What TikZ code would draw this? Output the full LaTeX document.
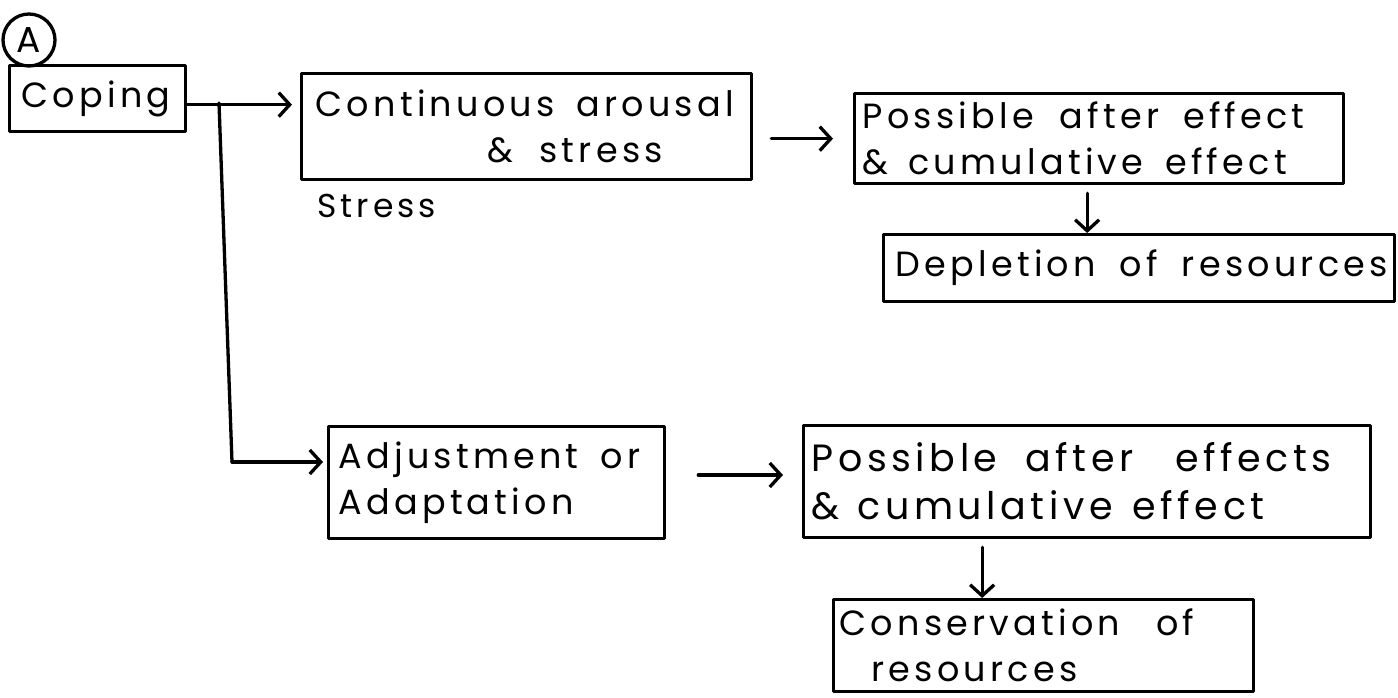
\documentclass[tikz,border=0pt]{standalone}
\usepackage{fontspec}
\newfontfamily\hand{Poppins}[LetterSpace=12]
\usetikzlibrary{arrows.meta}
% explicit word gap of a given width
\newcommand\wgap[1]{\hspace*{#1pt}}

\tikzset{
  ink/.style={line width=3.3pt, line cap=round, line join=round},
  box/.style={draw, ink, anchor=north west, align=left, inner xsep=#1, inner ysep=0pt,
    font=\hand\fontsize{35}{46}\selectfont},
  box/.default=10pt,
  flow/.style={ink, -{Straight Barb[length=11pt,width=24pt,line width=3.3pt]}},
}

\begin{document}
\begin{tikzpicture}[x=1pt,y=-1pt]
  \useasboundingbox[fill=white] (0,0) rectangle (1398,698);

  % label and root box
  \node[draw, ink, circle, minimum size=52pt, inner sep=0pt,
        font=\hand\fontsize{36}{36}\selectfont] (a) at (29,40) {A};
  \node[box=12pt, text width=152pt, minimum width=176pt, minimum height=66pt]
        (coping) at (8,64) {\mbox{Coping}};

  % upper branch
  \node[box=14pt, text width=422pt, minimum width=450pt, minimum height=106pt]
        (cont) at (300,72) {\mbox{Continuous\wgap{22}arousal}\\\hspace*{172pt}\mbox{\&\wgap{26}stress}};
  \node[anchor=base west, font=\hand\fontsize{33}{33}\selectfont] (struck) at (314,218) {Stress};
  \node[box=8pt, text width=473pt, minimum width=489pt, minimum height=90pt]
        (pos1) at (853,92) {\mbox{Possible\wgap{26}after\wgap{24}effect}\\\mbox{\&\wgap{20}cumulative\wgap{22}effect}};
  \node[box=12pt, text width=487pt, minimum width=511pt, minimum height=67pt]
        (depl) at (882,233) {\mbox{Depletion\wgap{24}of\wgap{24}resources}};

  % lower branch
  \node[box=10pt, text width=316pt, minimum width=336pt, minimum height=112pt]
        (adj) at (327,425) {\mbox{Adjustment\wgap{22}or}\\\mbox{Adaptation}};
  \node[box=8pt, text width=551pt, minimum width=567pt, minimum height=112pt,
        font=\hand\fontsize{38}{48}\selectfont]
        (pos2) at (802,424) {\mbox{Possible\wgap{28}after\wgap{42}effects}\\\mbox{\&\wgap{18}cumulative\wgap{20}effect}};
  \node[box=6pt, text width=408pt, minimum width=420pt, minimum height=92pt]
        (cons) at (832,598) {\mbox{Conservation\wgap{36}of}\\\hspace*{32pt}\mbox{resources}};

  % connectors
  \coordinate (j) at (219,103);
  \coordinate (k) at (232,462);
  \draw[flow, shorten >=8pt] ([yshift=-6pt]coping.east) -- ([yshift=-6pt]coping.east -| cont.west);
  \draw[ink] (j) -- (k);
  \draw[flow, shorten >=4pt] (k) -- (k -| adj.west);
  \draw[flow, shorten <=18pt, shorten >=20pt] (cont.east |- pos1.west) -- (pos1.west);
  \draw[flow, shorten <=8pt] ([xshift=-12pt]pos1.south) -- ([xshift=-12pt]pos1.south |- depl.north);
  \draw[flow, shorten <=32pt, shorten >=19pt] (adj.east |- 0,475) -- (pos2.west |- 0,475);
  \draw[flow, shorten <=8pt] ([xshift=-105pt]pos2.south) -- ([xshift=-105pt]pos2.south |- cons.north);
\end{tikzpicture}
\end{document}
